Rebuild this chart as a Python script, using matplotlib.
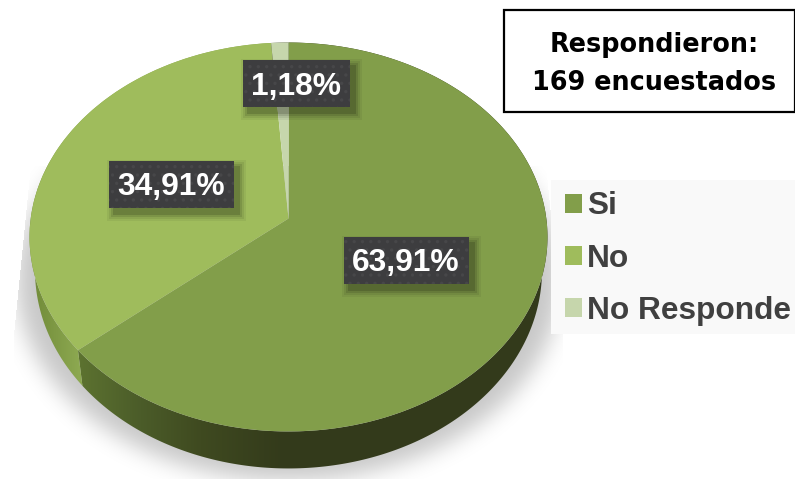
import numpy as np
import matplotlib
matplotlib.use("Agg")
import matplotlib.pyplot as plt
from matplotlib.patches import Rectangle, Patch, Polygon
from matplotlib.transforms import Transform

categories = ["Si", "No", "No Responde"]
values = [63.91, 34.91, 1.18]
face_colors = ["#829e4a", "#9fbc5c", "#c6d6ac"]
label_centres = [(405.5, 259.5), (171, 183.5), (295.5, 83)]
note_lines = ["Respondieron:", "169 encuestados"]

W, H = 795, 479
CX, CY, A, B, K = 288.0, 218.0, 257.8, 192.7, 0.0951

plt.rcParams["font.family"] = ["Liberation Sans", "DejaVu Sans"]
plt.rcParams["hatch.linewidth"] = 1.2
fig = plt.figure(figsize=(W / 100, H / 100), dpi=100, facecolor="white")
ax = fig.add_axes([0, 0, 1, 1])


class Tilt(Transform):
    """Projective view of the unit disc of the pie, into pixel coordinates."""
    input_dims = output_dims = 2

    def transform_non_affine(self, xy):
        xy = np.asarray(xy, float)
        u, v = xy[:, 0], xy[:, 1]
        w = 1 + K * v
        return np.column_stack([CX + A * u / w, CY - B * v / w])


tilt = Tilt()

# soft cast shadow
yy, xx = np.mgrid[0:H + 60, 0:W]
disc = (((xx - 288) / 272.0) ** 2 + ((yy - 280) / 200.0) ** 2 < 1).astype(float)
g = np.exp(-0.5 * (np.arange(-36, 37) / 11.0) ** 2)
g /= g.sum()
disc = np.apply_along_axis(lambda r: np.convolve(r, g, mode="same"), 0, disc)
disc = np.apply_along_axis(lambda r: np.convolve(r, g, mode="same"), 1, disc)
left = 14 + np.clip(330 - yy, 0, None) * 0.1
right = 562 - np.clip(330 - yy, 0, None) * 0.1
disc *= (xx >= left) & (xx <= right) & (yy > 165)
rgba = np.zeros(disc.shape + (4,))
rgba[..., 3] = disc * 0.22
ax.imshow(rgba, extent=(-0.5, W - 0.5, H + 59.5, -0.5), aspect="auto", zorder=1,
          interpolation="bilinear")

# side wall, built from the same slice angles: gradient images clipped to each slice
wall_stops = [
    ([80, 140, 200, 285], ["#5c7230", "#4b5c29", "#3f4a20", "#333a1b"]),
    ([30, 78], ["#708a38", "#8ca850"]),
    ([0, 1], ["#333a1b", "#333a1b"]),
]
edges = np.cumsum([0] + values) / sum(values) * 2 * np.pi
xs = np.arange(W)
for i in range(len(values)):
    ang = np.linspace(edges[i], edges[i + 1], 400)
    top = tilt.transform(np.column_stack([np.sin(ang), np.cos(ang)]))
    bottom = np.column_stack([288 + (top[:, 0] - 288) * 253.5 / 259,
                              270 + (top[:, 1] - 236.5) * 198 / 194.5])
    stops, hexes = wall_stops[i]
    rgb = np.array([matplotlib.colors.to_rgb(c) for c in hexes])
    strip = np.stack([np.interp(xs, stops, rgb[:, c]) for c in range(3)], axis=-1)[None, ...]
    im = ax.imshow(strip, extent=(-0.5, W - 0.5, H - 0.5, -0.5), aspect="auto", zorder=2)
    poly = Polygon(np.vstack([top, bottom[::-1]]), closed=True, transform=ax.transData,
                   fc="none", ec="none")
    ax.add_patch(poly)
    im.set_clip_path(poly)

# top face
wedges, _ = ax.pie(values, colors=face_colors, startangle=90, counterclock=False,
                   wedgeprops={"linewidth": 0})
for w in wedges:
    w.set_transform(tilt + ax.transData)
    w.set_zorder(3)

# value labels
for v, (x, y) in zip(values, label_centres):
    bw, bh = 125 if v >= 10 else 107, 47
    for grow, al in ((7, .05), (5, .07), (3, .1), (1, .14)):
        ax.add_patch(Rectangle((x - bw / 2 + 5 - grow, y - bh / 2 + 6 - grow),
                               bw + 2 * grow, bh + 2 * grow, fc="black", ec="none",
                               alpha=al, zorder=4))
    ax.add_patch(Rectangle((x - bw / 2, y - bh / 2), bw, bh, fc="#3d3d3f",
                           ec="#474749", lw=0, hatch="..", zorder=5))
    ax.text(x, y + 3, f"{v:.2f}%".replace(".", ","), color="white", fontsize=22.9,
            fontweight="bold", ha="center", va="center", zorder=6)

# legend
ax.add_patch(Rectangle((550, 179), 245, 154, fc="#f9f9f9", ec="none", zorder=2.5))
handles = [Patch(fc=c, ec="none") for c in face_colors]
ax.legend(handles, categories, loc="upper left", bbox_to_anchor=(564, 191),
          bbox_transform=ax.transData, frameon=False, borderpad=0, borderaxespad=0,
          handlelength=0.54, handleheight=0.54, handletextpad=0.17, labelspacing=0.70,
          prop={"size": 22.8, "weight": "bold"}, labelcolor="#404040")

# note box
ax.add_patch(Rectangle((503, 9), 291, 102, fc="white", ec="black", lw=1.6, zorder=5))
for line, y in zip(note_lines, (44, 82)):
    ax.text(654, y, line, color="black", fontsize=18.4, fontweight="bold",
            family=["DejaVu Sans"], ha="center", va="center", zorder=6)

ax.set_xlim(-0.5, W - 0.5)
ax.set_ylim(H - 0.5, -0.5)
ax.set_aspect("auto")
ax.axis("off")
fig.savefig("out.png", dpi=100, facecolor="white")
